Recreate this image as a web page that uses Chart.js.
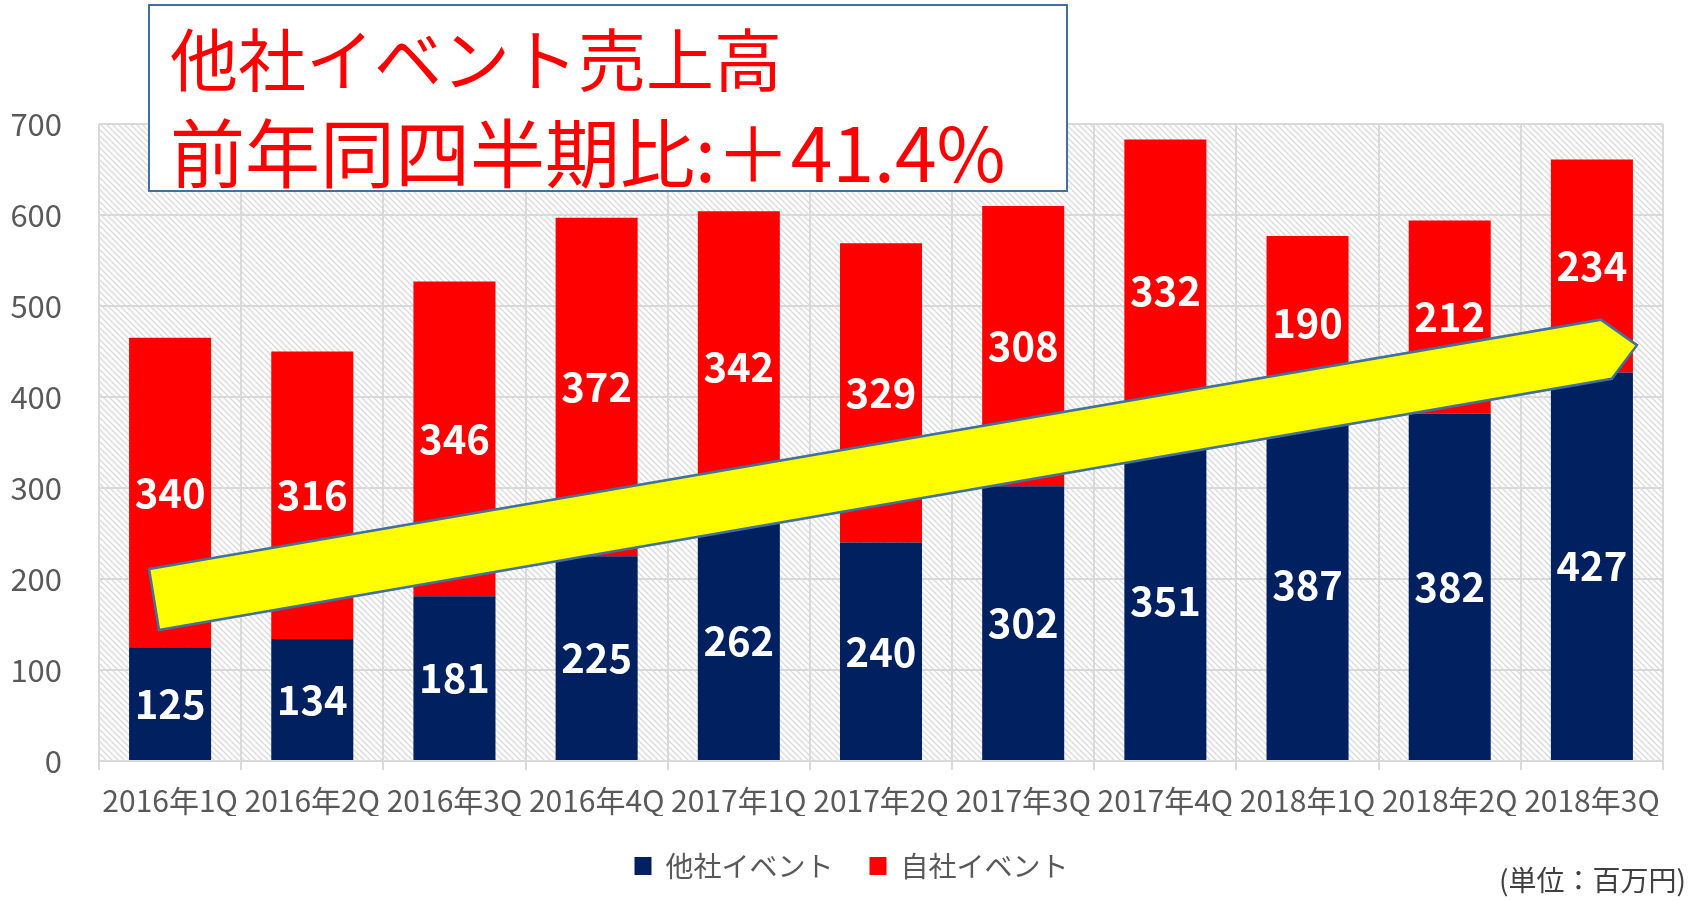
<!DOCTYPE html>
<html>
<head>
<meta charset="utf-8">
<script src="https://cdn.jsdelivr.net/npm/chart.js@4"></script>
<style>
  body { margin: 0; background: #fff; }
  #wrap { width: 1690px; height: 901px; position: relative; }
</style>
</head>
<body>
<div id="wrap"><canvas id="salesChart"></canvas></div>
<script>
const categories = ["2016年1Q", "2016年2Q", "2016年3Q", "2016年4Q", "2017年1Q", "2017年2Q",
  "2017年3Q", "2017年4Q", "2018年1Q", "2018年2Q", "2018年3Q"];
const otherEvents = [125, 134, 181, 225, 262, 240, 302, 351, 387, 382, 427]; // 他社イベント
const ownEvents = [340, 316, 346, 372, 342, 329, 308, 332, 190, 212, 234]; // 自社イベント
const seriesNames = ["他社イベント", "自社イベント"];
const titleLines = ["他社イベント売上高", "前年同四半期比:＋41.4%"];
const unitNote = "(単位：百万円)";

const FONT = "'Noto Sans CJK JP', 'Noto Sans', sans-serif";
Chart.defaults.font.family = FONT;

const ctx = document.getElementById("salesChart").getContext("2d");

// light diagonal hatch for the plot background
function makeHatch() {
  const c = document.createElement("canvas");
  c.width = 6; c.height = 6;
  const g = c.getContext("2d");
  g.fillStyle = "#ffffff";
  g.fillRect(0, 0, 6, 6);
  g.strokeStyle = "#d9d9d9";
  g.lineWidth = 1.3;
  g.beginPath();
  g.moveTo(-1, -1); g.lineTo(7, 7);
  g.moveTo(5, -1); g.lineTo(7, 1);
  g.moveTo(-1, 5); g.lineTo(1, 7);
  g.stroke();
  return ctx.createPattern(c, "repeat");
}

const plotBackground = {
  id: "plotBackground",
  afterLayout(chart) {
    // legend sits a little right of canvas centre in the original
    chart.legend.left += 40;
  },
  beforeDraw(chart) {
    const a = chart.chartArea;
    const c = chart.ctx;
    c.save();
    c.fillStyle = makeHatch();
    c.fillRect(a.left, a.top, a.right - a.left, a.bottom - a.top);
    c.restore();
  },
};

// yellow trend arrow (placed in category / value units) + bar value labels
const overlays = {
  id: "overlays",
  afterDatasetsDraw(chart) {
    const c = chart.ctx;
    const xs = chart.scales.x, ys = chart.scales.y;
    const pts = [[-0.148, 211], [10.063, 485], [10.317, 457], [10.14, 420], [-0.078, 144]];
    c.save();
    c.beginPath();
    pts.forEach(([i, v], k) => {
      const px = xs.getPixelForValue(i), py = ys.getPixelForValue(v);
      if (k === 0) c.moveTo(px, py); else c.lineTo(px, py);
    });
    c.closePath();
    c.fillStyle = "#ffff00";
    c.fill();
    c.strokeStyle = "#41719c";
    c.lineWidth = 2.5;
    c.stroke();

    c.fillStyle = "#ffffff";
    c.font = "bold 40px " + FONT;
    c.textAlign = "center";
    c.textBaseline = "middle";
    chart.data.datasets.forEach((ds, di) => {
      chart.getDatasetMeta(di).data.forEach((bar, i) => {
        c.fillText(String(ds.data[i]), bar.x, (bar.y + bar.base) / 2);
      });
    });
    c.restore();
  },
  afterDraw(chart) {
    const c = chart.ctx;
    c.save();
    // title box
    c.fillStyle = "#ffffff";
    c.fillRect(149, 5, 918, 186);
    c.strokeStyle = "#41719c";
    c.lineWidth = 2;
    c.strokeRect(149, 5, 918, 186);
    c.fillStyle = "#ff0000";
    c.textAlign = "left";
    c.textBaseline = "middle";
    c.font = "68px " + FONT;
    c.fillText(titleLines[0], 170, 60);
    c.font = "75px " + FONT;
    c.fillText(titleLines[1], 170, 153);
    // unit note
    c.fillStyle = "#404040";
    c.font = "28px " + FONT;
    c.textAlign = "right";
    c.fillText(unitNote, 1686, 880);
    c.restore();
  },
};

const salesChart = new Chart(ctx, {
  type: "bar",
  data: {
    labels: categories,
    datasets: [
      {
        label: seriesNames[0],
        data: otherEvents,
        backgroundColor: "#002060",
        barPercentage: 0.577,
        categoryPercentage: 1,
      },
      {
        label: seriesNames[1],
        data: ownEvents,
        backgroundColor: "#ff0000",
        barPercentage: 0.577,
        categoryPercentage: 1,
      },
    ],
  },
  options: {
    responsive: true,
    maintainAspectRatio: false,
    animation: false,
    layout: {
      padding: { left: 0, right: 27, top: 124, bottom: 11 },
    },
    plugins: {
      tooltip: { enabled: false },
      legend: {
        position: "bottom",
        labels: {
          color: "#595959",
          font: { size: 28 },
          boxWidth: 17,
          boxHeight: 18,
          padding: 36,
        },
      },
    },
    scales: {
      x: {
        stacked: true,
        grid: {
          color: "#d9d9d9",
          lineWidth: 2,
          offset: true,
          drawTicks: true,
          tickLength: 9,
        },
        border: { color: "#d9d9d9", width: 2 },
        ticks: {
          color: "#595959",
          font: { size: 30 },
          maxRotation: 0,
          autoSkip: false,
          padding: 13,
        },
        afterFit(scale) { scale.height = 55; },
      },
      y: {
        stacked: true,
        min: 0,
        max: 700,
        grid: { color: "#d9d9d9", lineWidth: 2, drawTicks: false },
        border: { display: false },
        ticks: {
          stepSize: 100,
          color: "#595959",
          font: { size: 31 },
          padding: 37,
        },
        afterFit(scale) { scale.width = 99; },
      },
    },
  },
  plugins: [plotBackground, overlays],
});
</script>
</body>
</html>
